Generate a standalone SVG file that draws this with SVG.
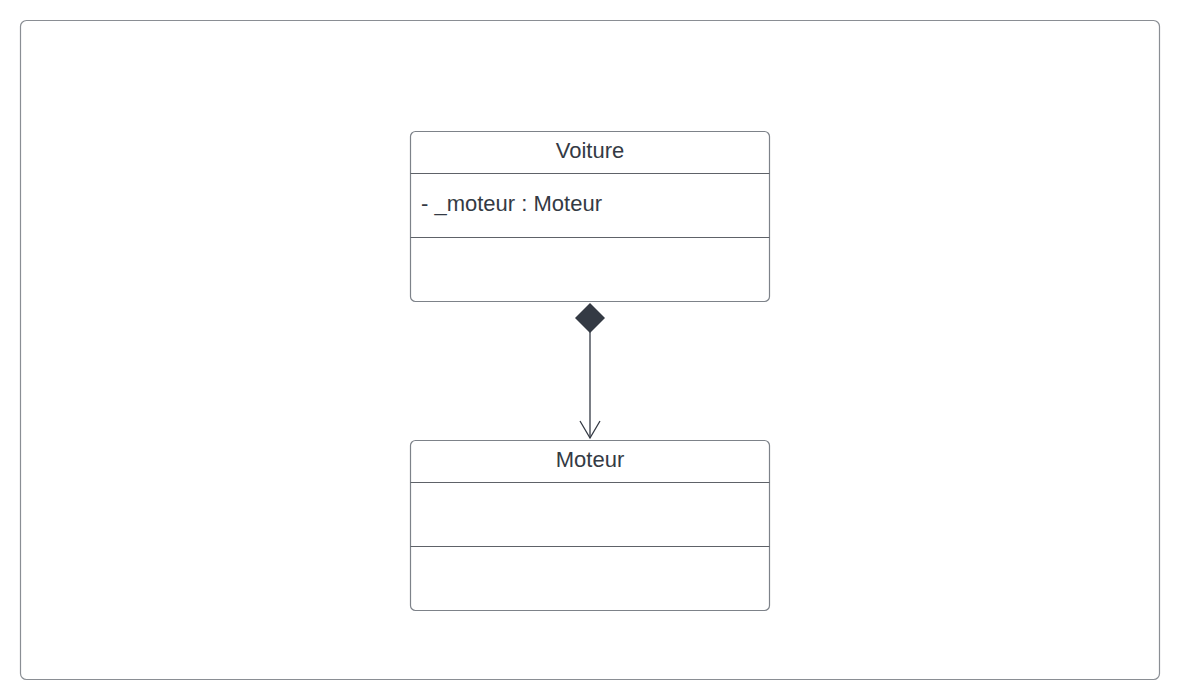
<svg xmlns="http://www.w3.org/2000/svg" width="1180" height="700" viewBox="0 0 1180 700">
<style>
.box{fill:#ffffff;stroke:#7d8289;stroke-width:1.2}
.sep{stroke:#5e6268;stroke-width:1}
.t{font-family:"Liberation Sans",Arial,sans-serif;font-size:22px;fill:#343a44}
.conn{stroke:#343a44;stroke-width:1.3;fill:none}
</style>
<rect x="0" y="0" width="1180" height="700" fill="#ffffff"/>
<rect x="20.5" y="20.5" width="1139" height="659" rx="6" fill="#ffffff" stroke="#8a8e94" stroke-width="1.2"/>
<g id="voiture">
<rect class="box" x="410.5" y="131.5" width="359" height="170" rx="5"/>
<line class="sep" x1="410.5" y1="173.5" x2="769.5" y2="173.5"/>
<line class="sep" x1="410.5" y1="237.5" x2="769.5" y2="237.5"/>
<text class="t" x="590" y="158" text-anchor="middle">Voiture</text>
<text class="t" x="421" y="211">- _moteur : Moteur</text>
</g>
<g id="moteur">
<rect class="box" x="410.5" y="440.5" width="359" height="170" rx="5"/>
<line class="sep" x1="410.5" y1="482.5" x2="769.5" y2="482.5"/>
<line class="sep" x1="410.5" y1="546.5" x2="769.5" y2="546.5"/>
<text class="t" x="590" y="467" text-anchor="middle">Moteur</text>
</g>
<g id="connectors">
<line class="conn" x1="590" y1="332" x2="590" y2="438"/>
<polygon points="590,303 605,318 590,333 575,318" fill="#343a44"/>
<polyline class="conn" points="580,421 590,438 600,421"/>
</g>
</svg>
